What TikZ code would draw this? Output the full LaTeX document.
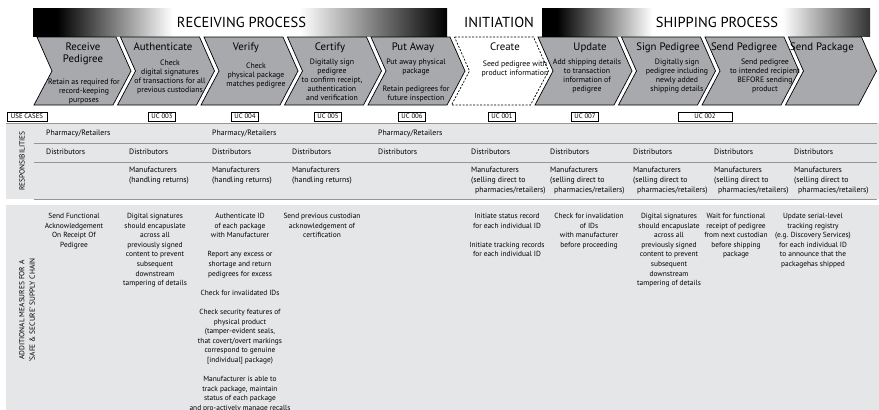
\documentclass[tikz,border=0pt]{standalone}
\usepackage{fontspec}
\setmainfont{PT Sans}
\usepackage{xcolor}
\usetikzlibrary{positioning}

\definecolor{chevgray}{RGB}{167,169,172}
\definecolor{bandgray}{RGB}{229,230,231}
\definecolor{rulegray}{RGB}{150,150,150}

% header shadings (100bp square, path sits in 25bp..75bp)
\pgfdeclarehorizontalshading{recvshade}{100bp}{color(0bp)=(black); color(27.9bp)=(black);
  color(41.9bp)=(white); color(57.2bp)=(white); color(75bp)=(black); color(100bp)=(black)}
\pgfdeclarehorizontalshading{shipshade}{100bp}{color(0bp)=(black); color(27.3bp)=(black);
  color(41.8bp)=(white); color(61.6bp)=(white); color(75bp)=(black!80); color(100bp)=(black!80)}

\begin{document}
\begin{tikzpicture}[
  x=1pt, y=-1pt,
  every node/.style={inner sep=0pt},
  hdr/.style ={font=\fontsize{14.5}{16}\selectfont, anchor=base},
  ttl/.style ={font=\fontsize{10.8}{12}\selectfont, align=center, anchor=north},
  dsc/.style ={font=\fontsize{7.8}{9}\selectfont, align=center, anchor=north},
  uc/.style  ={draw, line width=0.8pt, fill=white, font=\fontsize{6.8}{7}\selectfont,
               minimum width=27pt, minimum height=9pt},
  resp/.style={font=\fontsize{7.8}{10}\selectfont, align=left, anchor=north west},
  meas/.style={font=\fontsize{7.4}{9.6}\selectfont, align=center, anchor=north},
  side/.style={font=\fontsize{7.4}{10.5}\selectfont, align=center, rotate=90},
  rule/.style={draw=rulegray, line width=0.9pt},
  chev/.style ={fill=chevgray, draw=black, line width=0.7pt},
  chevd/.style={fill=white, draw=black, line width=0.7pt, dash pattern=on 2pt off 1.5pt},
  pics/chevron/.style={code={
    \draw[pic actions] (0,0) -- (#1,0) -- ++(15,34) -- ++(-18,34)
      -- (-3,68) -- (15,34) -- cycle;}}
]
\useasboundingbox (0,0) rectangle (879,410);
\clip (0,0) rectangle (879,410);

% --- Header bar ---
\shade[shading=recvshade] (33,8) rectangle (447,36);
\shade[shading=shipshade] (542,8) rectangle (870,36);
\node[hdr] (recvHd) at (241.5,27) {RECEIVING PROCESS};
\node[hdr] (initHd) at (499,27)   {INITIATION};
\node[hdr] (shipHd) at (717,27)   {SHIPPING PROCESS};

% --- Chevrons (pitch 83.5) ---
\pic[chev]  at (37,37)    {chevron=79};
\pic[chev]  at (120.5,37) {chevron=79};
\pic[chev]  at (204,37)   {chevron=79};
\pic[chev]  at (287.5,37) {chevron=79};
\pic[chev]  at (371,37)   {chevron=79};
\pic[chevd] at (454.5,37) {chevron=79};
\pic[chev]  at (538,37)   {chevron=79};
\pic[chev]  at (621.5,37) {chevron=79};
\pic[chev]  at (705,37)   {chevron=79};
\pic[chev]  at (788.5,37) {chevron=73};

% step titles
\node[ttl] (tRecv)   at (83,43)  {Receive\\Pedigree};
\node[ttl] (tAuth)   at (163,43) {Authenticate};
\node[ttl] (tVerify) at (246,43) {Verify};
\node[ttl] (tCert)   at (330,43) {Certify};
\node[ttl] (tPut)    at (413,43) {Put Away};
\node[ttl] (tCreate) at (505,43) {Create};
\node[ttl] (tUpd)    at (590,43) {Update};
\node[ttl] (tSign)   at (668,43) {Sign Pedigree};
\node[ttl] (tSendP)  at (744,43) {Send Pedigree};
\node[ttl] (tSendK)  at (822,43) {Send Package};

% step descriptions
\node[dsc] (dRecv)   at (84,78.5)  {Retain as required for\\record-keeping\\purposes};
\node[dsc] (dAuth)   at (170,59.5) {Check\\digital signatures\\of transactions for all\\previous custodians};
\node[dsc] (dVerify) at (256,62.5) {Check\\physical package\\matches pedigree};
\node[dsc] (dCert)   at (332,58.5) {Digitally sign\\pedigree\\to confirm receipt,\\authentication\\and verification};
\node[dsc] (dPut)    at (416,58.5) {Put away physical\\package\\[9pt]Retain pedigrees for\\future inspection};
\node[dsc] (dCreate) at (515,60.5) {Seed pedigree with\\product information};
\node[dsc] (dUpd)    at (587,58.5) {Add shipping details\\to transaction\\information of\\pedigree};
\node[dsc] (dSign)   at (677,58.5) {Digitally sign\\pedigree including\\newly added\\shipping details};
\node[dsc] (dSendP)  at (765,58.5) {Send pedigree\\to intended recipient\\BEFORE sending\\product};

% --- Use cases row ---
\node[uc, minimum width=40pt] (ucLbl) at (27,116.5) {USE CASES};
\node[uc] (uc003) at (162,116.5) {UC 003};
\node[uc] (uc004) at (245,116.5) {UC 004};
\node[uc] (uc005) at (328,116.5) {UC 005};
\node[uc] (uc006) at (412,116.5) {UC 006};
\node[uc] (uc001) at (502,116.5) {UC 001};
\node[uc] (uc007) at (585,116.5) {UC 007};
\node[uc, minimum width=54pt] (uc002) at (705,116.5) {UC 002};

% --- Responsibilities band ---
\fill[bandgray] (6,123) rectangle (879,199);
\draw[rule] (6,123)  -- (877,123);
\draw[rule] (34,143) -- (877,143);
\draw[rule] (34,162) -- (877,162);
\draw[rule] (34,199) -- (877,199);
\node[side] (respLbl) at (22,161) {RESPONSIBILITIES};

\node[resp] (pRecv) at (46,129.5)  {Pharmacy/Retailers};
\node[resp] (pVer)  at (212,129.5) {Pharmacy/Retailers};
\node[resp] (pPut)  at (378,129.5) {Pharmacy/Retailers};

\node[resp] (dsRecv)  at (46,148.5)  {Distributors};
\node[resp] (dsAuth)  at (129,148.5) {Distributors};
\node[resp] (dsVer)   at (212,148.5) {Distributors};
\node[resp] (dsCert)  at (292,148.5) {Distributors};
\node[resp] (dsPut)   at (378,148.5) {Distributors};
\node[resp] (dsCre)   at (471,148.5) {Distributors};
\node[resp] (dsUpd)   at (550,148.5) {Distributors};
\node[resp] (dsSign)  at (633,148.5) {Distributors};
\node[resp] (dsSendP) at (714,148.5) {Distributors};
\node[resp] (dsSendK) at (794,148.5) {Distributors};

\node[resp] (mAuth)   at (129,166.5) {Manufacturers\\(handling returns)};
\node[resp] (mVer)    at (212,166.5) {Manufacturers\\(handling returns)};
\node[resp] (mCert)   at (292,166.5) {Manufacturers\\(handling returns)};
\node[resp] (mCre)    at (471,166.5) {Manufacturers\\(selling direct to\\\hspace*{4pt}pharmacies/retailers)};
\node[resp] (mUpd)    at (550,166.5) {Manufacturers\\(selling direct to\\\hspace*{4pt}pharmacies/retailers)};
\node[resp] (mSign)   at (633,166.5) {Manufacturers\\(selling direct to\\\hspace*{4pt}pharmacies/retailers)};
\node[resp] (mSendP)  at (714,166.5) {Manufacturers\\(selling direct to\\\hspace*{4pt}pharmacies/retailers)};
\node[resp] (mSendK)  at (794,166.5) {Manufacturers\\(selling direct to\\\hspace*{4pt}pharmacies/retailers)};

% --- Additional measures band ---
\fill[bandgray] (6,205) rectangle (879,412);
\node[side] (measLbl) at (27,310) {ADDITIONAL MEASURES FOR A\\`SAFE \& SECURE' SUPPLY CHAIN};

\node[meas] (aRecv) at (74,213) {Send Functional\\Acknowledgement\\On Receipt Of\\Pedigree};
\node[meas] (aAuth) at (155,213) {Digital signatures\\should encapuslate\\across all\\previously signed\\content to prevent\\subsequent\\downstream\\tampering of details};
\node[meas] (aVer)  at (240,213) {Authenticate ID\\of each package\\with Manufacturer\\[9.6pt]Report any excess or\\shortage and return\\pedigrees for excess\\[9.6pt]Check for invalidated IDs\\[9.6pt]Check security features of\\physical product\\(tamper-evident seals,\\that covert/overt markings\\correspond to genuine\\{}[individual] package)\\[9.6pt]Manufacturer is able to\\track package, maintain\\status of each package\\and pro-actively manage recalls};
\node[meas] (aCert) at (322,213) {Send previous custodian\\acknowledgement of\\certification};
\node[meas] (aCre)  at (507,213) {Initiate status record\\for each individual ID\\[9.6pt]Initiate tracking records\\for each individual ID};
\node[meas] (aUpd)  at (589,213) {Check for invalidation\\of IDs\\with manufacturer\\before proceeding};
\node[meas] (aSign) at (669,213) {Digital signatures\\should encapuslate\\across all\\previously signed\\content to prevent\\subsequent\\downstream\\tampering of details};
\node[meas] (aSendP) at (736,213) {Wait for functional\\receipt of pedigree\\from next custodian\\before shipping\\package};
\node[meas] (aSendK) at (813,213) {Update serial-level\\tracking registry\\(e.g. Discovery Services)\\for each individual ID\\to announce that the\\packagehas shipped};

\end{tikzpicture}
\end{document}
